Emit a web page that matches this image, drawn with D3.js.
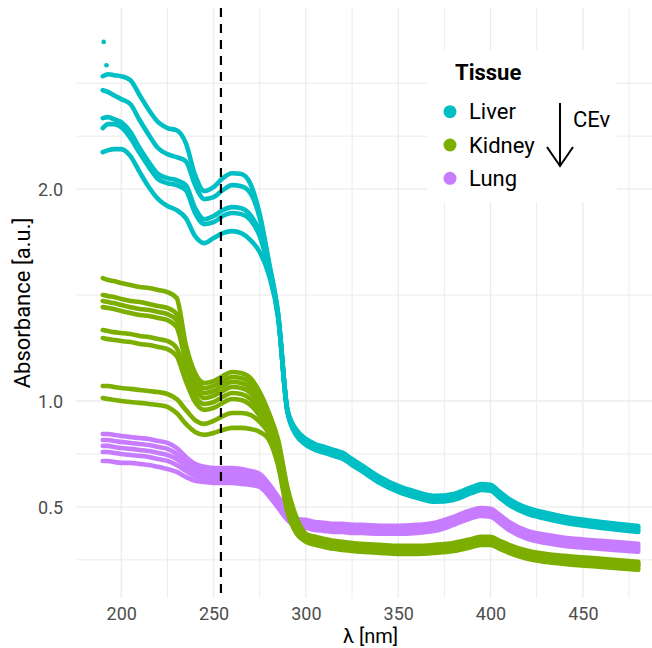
<!DOCTYPE html>
<html lang="en">
<head>
    <meta charset="UTF-8">
    <title>Absorbance spectra</title>
    <style>
        body, html {
            margin: 0;
            padding: 0;
            background: #fff;
            overflow: hidden;
        }
        text {
            font-family: Roboto, "Open Sans", sans-serif;
        }
    </style>
    <script src="https://d3js.org/d3.v7.min.js"></script>
</head>
<body>
    <div id="chart"></div>

    <script>
        const width = 652;
        const height = 648;

        // wavelength grid (nm) the curves were read on
        const wavelength = [190, 193, 196, 200, 205, 210, 215, 220, 225, 230, 235, 240, 245, 250, 255, 260, 265, 270, 275, 280, 285, 290,
            295, 300, 305, 310, 315, 320, 325, 330, 340, 350, 360, 370, 380, 390, 395, 400, 405, 410, 420, 430, 440, 460, 480];

        const liver1 = [2.533, 2.542, 2.538, 2.533, 2.514, 2.443, 2.373, 2.316, 2.288, 2.278, 2.217, 2.066, 1.991, 2.009, 2.052, 2.075, 2.071, 2.024, 1.882, 1.656, 1.410, 0.958,
            0.863, 0.821, 0.797, 0.783, 0.769, 0.755, 0.726, 0.698, 0.641, 0.599, 0.571, 0.552, 0.561, 0.594, 0.608, 0.604, 0.571, 0.538, 0.495, 0.472, 0.453, 0.429, 0.410];
        const liver2 = [2.467, 2.458, 2.443, 2.425, 2.401, 2.325, 2.255, 2.193, 2.165, 2.151, 2.132, 2.019, 1.953, 1.962, 1.995, 2.019, 2.014, 1.981, 1.863, 1.646, 1.406, 0.958,
            0.856, 0.814, 0.790, 0.776, 0.762, 0.748, 0.719, 0.691, 0.634, 0.592, 0.564, 0.545, 0.554, 0.587, 0.601, 0.597, 0.564, 0.531, 0.488, 0.465, 0.446, 0.422, 0.403];
        const liver3 = [2.335, 2.340, 2.330, 2.316, 2.269, 2.193, 2.127, 2.071, 2.052, 2.042, 2.019, 1.910, 1.858, 1.873, 1.901, 1.915, 1.910, 1.877, 1.797, 1.627, 1.401, 0.953,
            0.849, 0.807, 0.783, 0.769, 0.755, 0.741, 0.712, 0.684, 0.627, 0.585, 0.557, 0.538, 0.547, 0.580, 0.594, 0.590, 0.557, 0.524, 0.481, 0.458, 0.439, 0.415, 0.396];
        const liver4 = [2.288, 2.307, 2.307, 2.292, 2.241, 2.170, 2.104, 2.047, 2.028, 2.019, 1.995, 1.887, 1.835, 1.844, 1.873, 1.887, 1.882, 1.854, 1.778, 1.618, 1.396, 0.953,
            0.842, 0.800, 0.776, 0.762, 0.748, 0.734, 0.705, 0.677, 0.620, 0.578, 0.550, 0.531, 0.540, 0.573, 0.587, 0.583, 0.550, 0.517, 0.474, 0.451, 0.432, 0.408, 0.389];
        const liver5 = [2.175, 2.184, 2.189, 2.189, 2.156, 2.080, 2.009, 1.953, 1.920, 1.901, 1.863, 1.778, 1.745, 1.769, 1.792, 1.802, 1.792, 1.759, 1.703, 1.594, 1.392, 0.948,
            0.835, 0.793, 0.769, 0.755, 0.741, 0.727, 0.698, 0.670, 0.613, 0.571, 0.543, 0.524, 0.533, 0.566, 0.580, 0.576, 0.543, 0.510, 0.467, 0.444, 0.425, 0.401, 0.382];
        // stray readings at the very start of the liver scans
        const liverOutliers = [[190.5, 2.695], [192, 2.585]];

        const kidney1 = [1.580, 1.571, 1.566, 1.557, 1.547, 1.538, 1.533, 1.524, 1.514, 1.486, 1.264, 1.132, 1.085, 1.094, 1.118, 1.137, 1.132, 1.108, 1.042, 0.943, 0.816, 0.590,
            0.448, 0.373, 0.359, 0.349, 0.340, 0.335, 0.330, 0.326, 0.321, 0.316, 0.316, 0.321, 0.330, 0.349, 0.359, 0.359, 0.340, 0.321, 0.293, 0.278, 0.269, 0.255, 0.241];
        const kidney2 = [1.500, 1.495, 1.491, 1.481, 1.472, 1.467, 1.458, 1.448, 1.439, 1.410, 1.231, 1.108, 1.061, 1.071, 1.094, 1.113, 1.108, 1.085, 1.024, 0.939, 0.797, 0.580,
            0.439, 0.368, 0.354, 0.344, 0.335, 0.330, 0.325, 0.321, 0.316, 0.311, 0.311, 0.316, 0.325, 0.344, 0.354, 0.354, 0.335, 0.316, 0.288, 0.273, 0.264, 0.250, 0.236];
        const kidney3 = [1.472, 1.467, 1.462, 1.453, 1.443, 1.434, 1.429, 1.420, 1.410, 1.382, 1.208, 1.085, 1.038, 1.047, 1.071, 1.090, 1.085, 1.061, 1.005, 0.920, 0.783, 0.571,
            0.429, 0.363, 0.349, 0.339, 0.330, 0.325, 0.320, 0.316, 0.311, 0.306, 0.306, 0.311, 0.320, 0.339, 0.349, 0.349, 0.330, 0.311, 0.283, 0.268, 0.259, 0.245, 0.231];
        const kidney4 = [1.443, 1.439, 1.434, 1.425, 1.415, 1.406, 1.401, 1.392, 1.382, 1.349, 1.184, 1.061, 1.014, 1.024, 1.047, 1.066, 1.061, 1.038, 0.986, 0.901, 0.764, 0.561,
            0.420, 0.359, 0.345, 0.335, 0.326, 0.321, 0.316, 0.312, 0.307, 0.302, 0.302, 0.307, 0.316, 0.335, 0.345, 0.345, 0.326, 0.307, 0.279, 0.264, 0.255, 0.241, 0.227];
        const kidney5 = [1.335, 1.330, 1.325, 1.321, 1.316, 1.307, 1.302, 1.292, 1.283, 1.250, 1.123, 1.024, 0.986, 0.995, 1.019, 1.038, 1.033, 1.009, 0.958, 0.873, 0.741, 0.542,
            0.410, 0.354, 0.340, 0.330, 0.321, 0.316, 0.311, 0.307, 0.302, 0.297, 0.297, 0.302, 0.311, 0.330, 0.340, 0.340, 0.321, 0.302, 0.274, 0.259, 0.250, 0.236, 0.222];
        const kidney6 = [1.297, 1.292, 1.288, 1.283, 1.278, 1.269, 1.264, 1.255, 1.245, 1.212, 1.094, 0.995, 0.958, 0.967, 0.991, 1.009, 1.005, 0.981, 0.929, 0.844, 0.712, 0.524,
            0.401, 0.349, 0.335, 0.325, 0.316, 0.311, 0.306, 0.302, 0.297, 0.292, 0.292, 0.297, 0.306, 0.325, 0.335, 0.335, 0.316, 0.297, 0.269, 0.254, 0.245, 0.231, 0.217];
        const kidney7 = [1.071, 1.071, 1.066, 1.061, 1.057, 1.052, 1.047, 1.042, 1.033, 1.009, 0.958, 0.910, 0.892, 0.906, 0.929, 0.943, 0.943, 0.934, 0.901, 0.844, 0.712, 0.495,
            0.382, 0.340, 0.326, 0.316, 0.307, 0.302, 0.297, 0.293, 0.288, 0.283, 0.283, 0.288, 0.297, 0.316, 0.326, 0.326, 0.307, 0.288, 0.260, 0.245, 0.236, 0.222, 0.208];
        const kidney8 = [1.014, 1.009, 1.005, 1.000, 0.995, 0.991, 0.986, 0.981, 0.972, 0.943, 0.892, 0.854, 0.840, 0.849, 0.863, 0.873, 0.873, 0.868, 0.854, 0.816, 0.693, 0.476,
            0.373, 0.335, 0.321, 0.311, 0.302, 0.297, 0.292, 0.288, 0.283, 0.278, 0.278, 0.283, 0.292, 0.311, 0.321, 0.321, 0.302, 0.283, 0.255, 0.240, 0.231, 0.217, 0.203];

        const lung1 = [0.844, 0.844, 0.840, 0.835, 0.830, 0.825, 0.821, 0.811, 0.802, 0.778, 0.736, 0.703, 0.689, 0.684, 0.684, 0.684, 0.679, 0.670, 0.656, 0.608, 0.547, 0.486,
            0.443, 0.439, 0.429, 0.425, 0.420, 0.420, 0.415, 0.415, 0.411, 0.411, 0.415, 0.425, 0.453, 0.486, 0.495, 0.491, 0.462, 0.429, 0.387, 0.368, 0.354, 0.340, 0.326];
        const lung2 = [0.816, 0.816, 0.811, 0.807, 0.802, 0.797, 0.792, 0.783, 0.774, 0.750, 0.712, 0.684, 0.670, 0.665, 0.665, 0.665, 0.660, 0.651, 0.637, 0.594, 0.538, 0.476,
            0.434, 0.429, 0.419, 0.415, 0.410, 0.410, 0.405, 0.405, 0.401, 0.401, 0.405, 0.415, 0.443, 0.476, 0.485, 0.481, 0.452, 0.419, 0.377, 0.358, 0.344, 0.330, 0.316];
        const lung3 = [0.788, 0.788, 0.783, 0.778, 0.774, 0.769, 0.764, 0.755, 0.745, 0.726, 0.693, 0.665, 0.651, 0.646, 0.646, 0.646, 0.642, 0.637, 0.623, 0.580, 0.524, 0.462,
            0.425, 0.420, 0.410, 0.406, 0.401, 0.401, 0.396, 0.396, 0.392, 0.392, 0.396, 0.406, 0.434, 0.467, 0.476, 0.472, 0.443, 0.410, 0.368, 0.349, 0.335, 0.321, 0.307];
        const lung4 = [0.759, 0.759, 0.755, 0.750, 0.745, 0.741, 0.736, 0.726, 0.717, 0.698, 0.670, 0.646, 0.637, 0.632, 0.632, 0.632, 0.627, 0.618, 0.608, 0.566, 0.509, 0.453,
            0.415, 0.411, 0.401, 0.397, 0.392, 0.392, 0.387, 0.387, 0.383, 0.383, 0.387, 0.397, 0.425, 0.458, 0.467, 0.463, 0.434, 0.401, 0.359, 0.340, 0.326, 0.312, 0.298];
        const lung5 = [0.717, 0.717, 0.712, 0.708, 0.708, 0.703, 0.698, 0.689, 0.679, 0.665, 0.642, 0.623, 0.618, 0.613, 0.613, 0.613, 0.608, 0.604, 0.594, 0.552, 0.495, 0.439,
            0.406, 0.401, 0.391, 0.387, 0.382, 0.382, 0.377, 0.377, 0.373, 0.373, 0.377, 0.387, 0.415, 0.448, 0.457, 0.453, 0.424, 0.391, 0.349, 0.330, 0.316, 0.302, 0.288];

        const tissues = ["Liver", "Kidney", "Lung"];
        const tissueColors = ["#00BFC4", "#7CAE00", "#C77CFF"];
        const xTicks = [200, 250, 300, 350, 400, 450];
        const xMinor = [225, 275, 325, 375, 425, 475];
        const yTicks = [0.5, 1.0, 2.0];
        const yMinor = [0.25, 0.75, 1.5, 2.25, 2.5];
        const markerWavelength = 254;

        const series = [
            {tissue: "Lung", values: lung1}, {tissue: "Lung", values: lung2}, {tissue: "Lung", values: lung3},
            {tissue: "Lung", values: lung4}, {tissue: "Lung", values: lung5},
            {tissue: "Kidney", values: kidney1}, {tissue: "Kidney", values: kidney2}, {tissue: "Kidney", values: kidney3},
            {tissue: "Kidney", values: kidney4}, {tissue: "Kidney", values: kidney5}, {tissue: "Kidney", values: kidney6},
            {tissue: "Kidney", values: kidney7}, {tissue: "Kidney", values: kidney8},
            {tissue: "Liver", values: liver1}, {tissue: "Liver", values: liver2}, {tissue: "Liver", values: liver3},
            {tissue: "Liver", values: liver4}, {tissue: "Liver", values: liver5}
        ];

        const color = d3.scaleOrdinal().domain(tissues).range(tissueColors);

        // panel runs past the right edge of the picture, as in the original crop
        const panel = {left: 76, right: 665, top: 8, bottom: 598};

        const x = d3.scaleLinear().domain([175.5, 494.5]).range([panel.left, panel.right]);
        const y = d3.scaleLinear().domain([0.07, 2.855]).range([panel.bottom, panel.top]);

        const svg = d3.select("#chart")
            .append("svg")
            .attr("width", width)
            .attr("height", height);

        // grid
        const grid = svg.append("g").attr("stroke", "#ebebeb").attr("fill", "none");
        grid.selectAll(".vminor").data(xMinor).enter().append("line")
            .attr("x1", d => x(d)).attr("x2", d => x(d))
            .attr("y1", panel.top).attr("y2", panel.bottom)
            .attr("stroke-width", 1);
        grid.selectAll(".hminor").data(yMinor).enter().append("line")
            .attr("x1", panel.left).attr("x2", panel.right)
            .attr("y1", d => y(d)).attr("y2", d => y(d))
            .attr("stroke-width", 1);
        grid.selectAll(".vmajor").data(xTicks).enter().append("line")
            .attr("x1", d => x(d)).attr("x2", d => x(d))
            .attr("y1", panel.top).attr("y2", panel.bottom)
            .attr("stroke-width", 1.3);
        grid.selectAll(".hmajor").data(yTicks).enter().append("line")
            .attr("x1", panel.left).attr("x2", panel.right)
            .attr("y1", d => y(d)).attr("y2", d => y(d))
            .attr("stroke-width", 1.3);

        // spectra
        const line = d3.line()
            .x((d, i) => x(wavelength[i]))
            .y(d => y(d))
            .curve(d3.curveMonotoneX);

        svg.append("g")
            .selectAll("path")
            .data(series)
            .enter().append("path")
            .attr("d", d => line(d.values))
            .attr("fill", "none")
            .attr("stroke", d => color(d.tissue))
            .attr("stroke-width", 4.6)
            .attr("stroke-linecap", "round")
            .attr("stroke-linejoin", "round");

        svg.append("g")
            .selectAll("circle")
            .data(liverOutliers)
            .enter().append("circle")
            .attr("cx", d => x(d[0]))
            .attr("cy", d => y(d[1]))
            .attr("r", 2.3)
            .attr("fill", color("Liver"));

        // 254 nm marker
        svg.append("line")
            .attr("x1", x(markerWavelength)).attr("x2", x(markerWavelength))
            .attr("y1", panel.top).attr("y2", panel.bottom)
            .attr("stroke", "#000")
            .attr("stroke-width", 2.2)
            .attr("stroke-dasharray", "9,7");

        // axes (text only, theme_minimal style)
        const xAxis = d3.axisBottom(x).tickValues(xTicks).tickSize(0).tickPadding(0);
        const gx = svg.append("g").attr("transform", `translate(0,${panel.bottom})`).call(xAxis);
        gx.select(".domain").remove();
        gx.selectAll("text")
            .attr("y", 22).attr("dy", 0)
            .attr("fill", "#4d4d4d")
            .style("font-size", "18px")
            .style("font-family", "Roboto, sans-serif");

        const yAxis = d3.axisLeft(y).tickValues(yTicks).tickSize(0).tickPadding(0).tickFormat(d3.format(".1f"));
        const gy = svg.append("g").attr("transform", `translate(63,0)`).call(yAxis);
        gy.select(".domain").remove();
        gy.selectAll("text")
            .attr("x", 0).attr("dy", "0.35em")
            .attr("fill", "#4d4d4d")
            .style("font-size", "18px")
            .style("font-family", "Roboto, sans-serif");

        svg.append("text")
            .attr("transform", `translate(30,${(panel.top + panel.bottom) / 2}) rotate(-90)`)
            .attr("text-anchor", "middle")
            .style("font-size", "22px")
            .attr("fill", "#000")
            .text("Absorbance [a.u.]");

        svg.append("text")
            .attr("x", (panel.left + panel.right) / 2)
            .attr("y", 643)
            .attr("text-anchor", "middle")
            .style("font-size", "20px")
            .attr("fill", "#000")
            .text("λ [nm]");

        // legend inside the panel
        const legend = svg.append("g");
        legend.append("rect")
            .attr("x", 427).attr("y", 50)
            .attr("width", 190).attr("height", 152)
            .attr("fill", "#fff");
        legend.append("text")
            .attr("x", 455).attr("y", 80)
            .style("font-size", "22px")
            .style("font-weight", "bold")
            .text("Tissue");
        const items = legend.selectAll(".item")
            .data(tissues)
            .enter().append("g")
            .attr("transform", (d, i) => `translate(0,${111.7 + i * 33.3})`);
        items.append("circle")
            .attr("cx", 450).attr("cy", 0).attr("r", 6.5)
            .attr("fill", d => color(d));
        items.append("text")
            .attr("x", 469).attr("y", 0).attr("dy", "0.35em")
            .style("font-size", "22px")
            .text(d => d);

        // CEv arrow
        legend.append("line")
            .attr("x1", 560).attr("x2", 560)
            .attr("y1", 103).attr("y2", 166)
            .attr("stroke", "#000").attr("stroke-width", 2);
        legend.append("path")
            .attr("d", "M547,147L560,166L573,147")
            .attr("fill", "none")
            .attr("stroke", "#000").attr("stroke-width", 2);
        legend.append("text")
            .attr("x", 573).attr("y", 127)
            .style("font-size", "22px")
            .text("CEv");
    </script>
</body>
</html>
